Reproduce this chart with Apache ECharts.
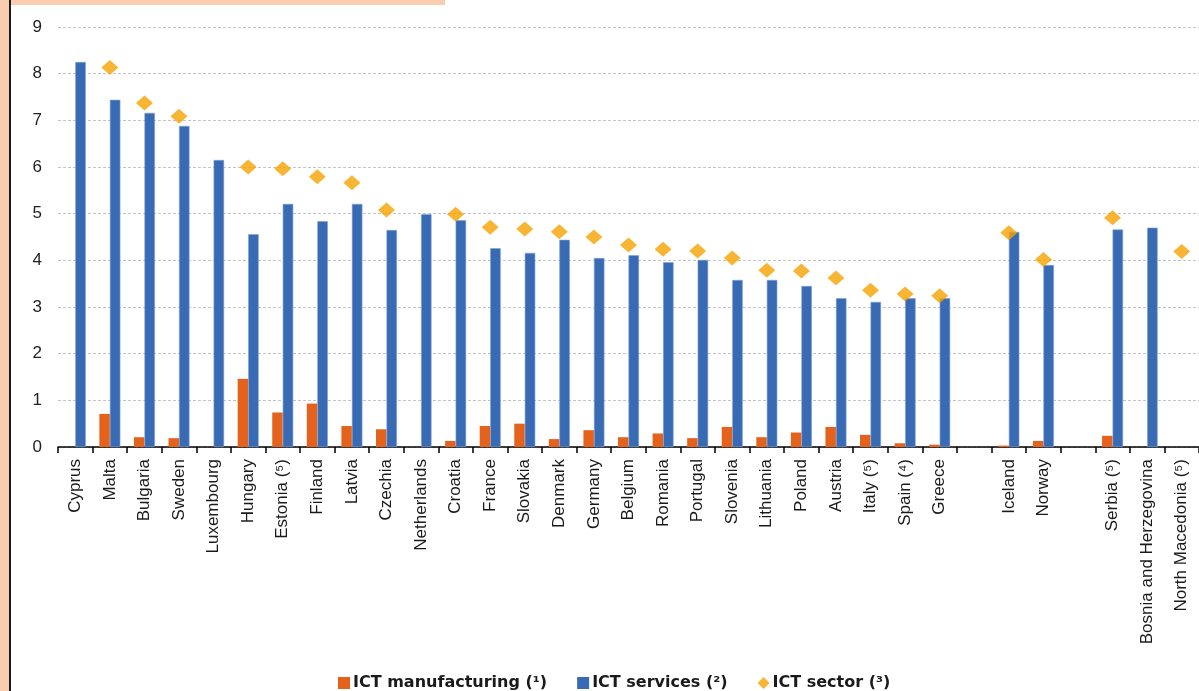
<!DOCTYPE html>
<html>
<head>
<meta charset="utf-8">
<script src="https://cdn.jsdelivr.net/npm/echarts@6/dist/echarts.min.js"></script>
<style>
  html, body { margin: 0; padding: 0; width: 1199px; height: 691px; overflow: hidden; background: #f8cdb0; }
  #panel { position: absolute; left: 11px; top: 5px; width: 1188px; height: 686px; background: #ffffff; }
  #panelTop { position: absolute; left: 445px; top: 0; width: 754px; height: 5px; background: #ffffff; }
  #edge { position: absolute; left: 9px; top: 0; width: 2px; height: 691px; background: #1a1a1a; }
  #chart { position: absolute; left: 0; top: 0; width: 1199px; height: 691px; }
</style>
</head>
<body>
<div id="panel"></div>
<div id="panelTop"></div>
<div id="edge"></div>
<div id="chart"></div>
<script>
// Countries in display order; empty strings are spacer slots between groups
const categories = [
  'Cyprus', 'Malta', 'Bulgaria', 'Sweden', 'Luxembourg', 'Hungary', 'Estonia (\u2075)', 'Finland',
  'Latvia', 'Czechia', 'Netherlands', 'Croatia', 'France', 'Slovakia', 'Denmark', 'Germany',
  'Belgium', 'Romania', 'Portugal', 'Slovenia', 'Lithuania', 'Poland', 'Austria', 'Italy (\u2075)',
  'Spain (\u2074)', 'Greece', '', 'Iceland', 'Norway', ' ', 'Serbia (\u2075)',
  'Bosnia and Herzegovina', 'North Macedonia (\u2075)'
];

// ICT manufacturing (1)
const ictManufacturing = [
  null, 0.71, 0.21, 0.19, null, 1.46, 0.74, 0.93,
  0.45, 0.38, null, 0.13, 0.45, 0.50, 0.17, 0.36,
  0.21, 0.29, 0.19, 0.43, 0.21, 0.31, 0.43, 0.26,
  0.08, 0.05, null, 0.03, 0.13, null, 0.24,
  null, null
];

// ICT services (2)
const ictServices = [
  8.25, 7.44, 7.16, 6.88, 6.15, 4.56, 5.21, 4.84,
  5.21, 4.65, 4.99, 4.86, 4.26, 4.16, 4.44, 4.05,
  4.11, 3.96, 4.01, 3.58, 3.58, 3.45, 3.19, 3.11,
  3.19, 3.19, null, 4.61, 3.90, null, 4.66,
  4.70, null
];

// ICT sector (3)
const ictSector = [
  null, 8.13, 7.37, 7.09, null, 6.00, 5.96, 5.79,
  5.66, 5.08, null, 4.99, 4.71, 4.67, 4.61, 4.50,
  4.33, 4.24, 4.20, 4.05, 3.79, 3.77, 3.62, 3.36,
  3.28, 3.24, null, 4.59, 4.02, null, 4.91,
  null, 4.19
];

const yTicks = { min: 0, max: 9, step: 1 };

const font = '"Liberation Sans", Arial, sans-serif';
const chart = echarts.init(document.getElementById('chart'), null, { renderer: 'canvas' });

chart.setOption({
  animation: false,
  backgroundColor: 'transparent',
  textStyle: { fontFamily: font },
  grid: { left: 58, top: 27, width: 1144, height: 420, containLabel: false },
  legend: {
    top: 670,
    left: 333,
    itemWidth: 12,
    itemHeight: 12,
    itemGap: 30,
    itemStyle: { borderWidth: 0 },
    textStyle: { fontFamily: '"DejaVu Sans", sans-serif', fontSize: 16, fontWeight: 'bold', color: '#1a1a1a', padding: [0, 0, 0, -2] },
    data: [
      { name: 'ICT manufacturing (\u00b9)', icon: 'rect' },
      { name: 'ICT services (\u00b2)', icon: 'rect' },
      { name: 'ICT sector (\u00b3)', icon: 'diamond' }
    ]
  },
  xAxis: {
    type: 'category',
    data: categories,
    boundaryGap: true,
    axisLine: { lineStyle: { color: '#000000', width: 1.5 } },
    axisTick: { show: true, interval: 0, length: 6, lineStyle: { color: '#000000', width: 1.5 } },
    axisLabel: { interval: 0, rotate: 90, margin: 12, fontSize: 17, color: '#1a1a1a', fontFamily: font }
  },
  yAxis: {
    type: 'value',
    min: yTicks.min,
    max: yTicks.max,
    interval: yTicks.step,
    axisLine: { show: false },
    axisTick: { show: false },
    axisLabel: { fontSize: 17, color: '#222222', margin: 16, fontFamily: font },
    splitLine: { show: true, lineStyle: { color: '#c4c4c4', type: [3, 2], width: 1 } }
  },
  series: [
    {
      name: 'ICT manufacturing (\u00b9)',
      type: 'bar',
      data: ictManufacturing,
      barWidth: 10.5,
      barGap: '0%',
      itemStyle: { color: '#e4621c' }
    },
    {
      name: 'ICT services (\u00b2)',
      type: 'bar',
      data: ictServices,
      barWidth: 10.5,
      itemStyle: { color: '#396bb4', borderColor: '#7fa2d4', borderWidth: 0.6 }
    },
    {
      name: 'ICT sector (\u00b3)',
      type: 'scatter',
      data: ictSector,
      symbol: 'diamond',
      symbolSize: [17, 15],
      itemStyle: { color: '#f5a300' },
      z: 5
    }
  ]
});
</script>
</body>
</html>
